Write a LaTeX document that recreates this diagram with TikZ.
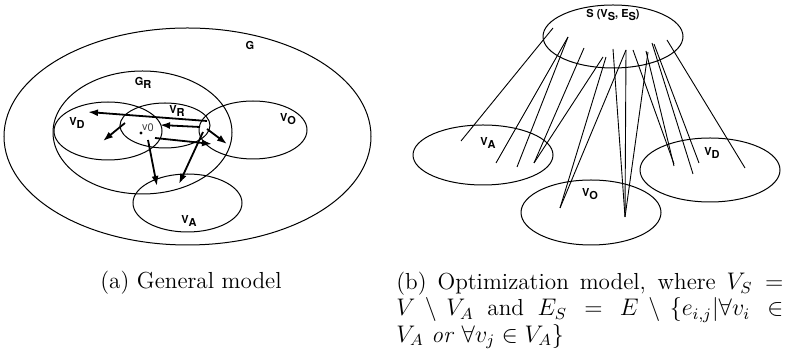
\documentclass[tikz,border=0pt]{standalone}
\usepackage{fontspec}
\setsansfont{TeX Gyre Heros}
\usetikzlibrary{arrows.meta}
\newcommand{\vsub}[2]{#1\raisebox{-0.5ex}{#2}}
\begin{document}
\begin{tikzpicture}[x=0.5pt, y=-0.5pt, font=\sffamily\bfseries\fontsize{5.5}{6}\selectfont,
    set/.style={line width=0.5pt},
    link/.style={line width=0.9pt, -{Latex[length=5pt,width=3.5pt]}},
    edge/.style={line width=0.45pt},
    captxt/.style={font=\rmfamily\mdseries\fontsize{11.6}{11.9}\selectfont}]
  \useasboundingbox (0,0) rectangle (797,351);
  % (a) general model
  \draw[set] (187.5,136.5) ellipse [x radius=183.5, y radius=108.5];
  \draw[set] (142.5,132.5) ellipse [x radius=89.5, y radius=61.5];
  \draw[set] (108,131) ellipse [x radius=54, y radius=29];
  \draw[set] (165,125.5) ellipse [x radius=45, y radius=22.5];
  \draw[set] (253,130) ellipse [x radius=54, y radius=29];
  \draw[set] (187.5,203) ellipse [x radius=54.5, y radius=29];
  \node (g) at (250,45) {G};
  \node (gr) at (143,83) {\vsub{G}{R}};
  \node (vd) at (77,123) {\vsub{V}{D}};
  \node (vr) at (177,111) {\vsub{V}{R}};
  \node (vo) at (288,119) {\vsub{V}{O}};
  \node (va) at (189,221) {\vsub{V}{A}};
  \node[circle, fill, inner sep=0pt, minimum size=1.6pt] (v0) at (141,133) {};
  \node[font=\sffamily\mdseries\fontsize{5.5}{6}\selectfont, text=black!75] (v0lab) at (148,128) {v\raisebox{-0.3ex}{0}};
  \foreach \n/\x/\y in {p1/207/121, q1/88/112, p2/160/125, q2/200/127, p3/125/123, q3/103/141,
      p4/155/138, q4/212/144, p5/207/129, q5/227/144, p6/148/140, q6/157/186, p7/203/132, q7/179/184}
    \coordinate (\n) at (\x,\y);
  \foreach \i in {1,3,4,5,6,7}
    \draw[link] (p\i) -- (q\i);
  \draw[link, {Latex[length=5pt,width=3.5pt]}-] (p2) -- (q2);
  \node[captxt] (capa) at (191,283) {(a) General model};
  % (b) optimization model
  \draw[set] (613,36.5) ellipse [x radius=70, y radius=31.5];
  \draw[set] (483,155) ellipse [x radius=70, y radius=30];
  \draw[set] (591,212.5) ellipse [x radius=70, y radius=32.5];
  \draw[set] (710,170) ellipse [x radius=70, y radius=32];
  \node (s) at (613,15) {S (\vsub{V}{S}, \vsub{E}{S})};
  \node (sa) at (488,143) {\vsub{V}{A}};
  \node (so) at (590,194) {\vsub{V}{O}};
  \node (sd) at (712,153) {\vsub{V}{D}};
  \foreach \n/\x/\y in {s1/553/28, s2/568/37, s3/584/48, s4/603/57, s5/606/57, s6/626/50, s7/613/49,
      s8/648/52, s9/633/50, s10/646/51, s11/652/43, s12/654/44, s13/667/40,
      a1/461/141, a2/496/163, a3/517/167, a4/534/163, o1/560/208, o2/625/217,
      d1/674/164, d2/674/166, d3/693/174, d4/699/163, d5/745/168}
    \coordinate (\n) at (\x,\y);
  \foreach \a/\b in {s1/a1, s2/a2, s2/a3, s3/a4, s4/a4, s5/o1, s6/o1, s7/o2, s6/o2, s8/o2,
      s9/d1, s10/d2, s11/d3, s12/d4, s13/d5}
    \draw[edge] (\a) -- (\b);
  \node[captxt, text width=193.5pt, align=justify, inner sep=0pt, anchor=north west] (capb) at (396,272)
    {(b) Optimization model, where $V_S =$\linebreak $V \setminus V_A$ and $E_S = E \setminus \{e_{i,j}|\forall v_i \in$\linebreak $V_A$ \emph{or} $\forall v_j \in V_A\}$};
\end{tikzpicture}
\end{document}
